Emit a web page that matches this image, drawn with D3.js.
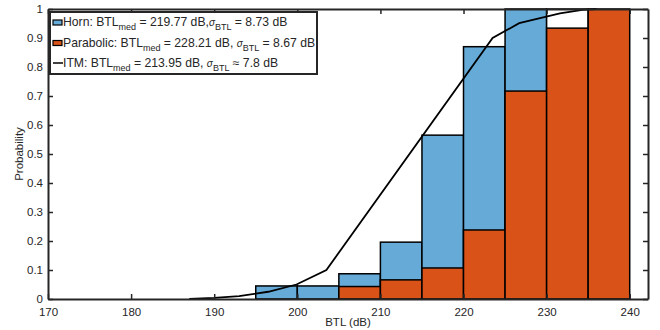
<!DOCTYPE html>
<html>
<head>
<meta charset="utf-8">
<script src="https://cdn.jsdelivr.net/npm/d3@7"></script>
<style>
  body { margin: 0; background: #fff; }
  text { font-family: "Liberation Sans", Arial, sans-serif; fill: #262626; }
</style>
</head>
<body>
<div id="chart"></div>
<script>
// valores (CDF por bin de 5 dB)
const binWidth = 5;
const hornBins = [195, 200, 205, 210, 215, 220, 225];
const hornVals = [0.045, 0.045, 0.087, 0.196, 0.565, 0.87, 1.0];
const paraBins = [205, 210, 215, 220, 225, 230, 235];
const paraVals = [0.043, 0.066, 0.107, 0.238, 0.717, 0.934, 1.0];
// bin vacio (contorno blanco) sobre la barra naranja
const emptyBins = [230];
const emptyVals = [1.0];

const itmX = [187, 190, 193, 196.5, 199.9, 203.5, 223.5, 226.7, 231.6, 234.3, 236];
const itmY = [0, 0.004, 0.01, 0.025, 0.05, 0.1, 0.9, 0.951, 0.985, 0.997, 1.0];

const xTicks = [170, 180, 190, 200, 210, 220, 230, 240];
const yTicks = [0, 0.1, 0.2, 0.3, 0.4, 0.5, 0.6, 0.7, 0.8, 0.9, 1];

const legendRows = [
  { name: "Horn: BTL", med: "219.77", sep: ",", sig: "8.73", rel: "=", color: "#66abd8", kind: "patch" },
  { name: "Parabolic: BTL", med: "228.21", sep: ", ", sig: "8.67", rel: "=", color: "#d95319", kind: "patch" },
  { name: "ITM: BTL", med: "213.95", sep: ", ", sig: "7.8", rel: "\u2248", color: "#000", kind: "line" }
];

const width = 660;
const height = 330;
const margin = { top: 9, right: 12, bottom: 31, left: 48 };

const svg = d3.select("#chart").append("svg")
    .attr("width", width)
    .attr("height", height);

const x = d3.scaleLinear().domain([170, 242.2]).range([margin.left, width - margin.right]);
const y = d3.scaleLinear().domain([0, 1]).range([height - margin.bottom, margin.top]);

const axisColor = "#262626";

// barras Horn
svg.selectAll("rect.horn")
  .data(hornBins.map((b, i) => ({ b, v: hornVals[i] })))
  .join("rect")
    .attr("class", "horn")
    .attr("x", d => x(d.b))
    .attr("y", d => y(d.v))
    .attr("width", d => x(d.b + binWidth) - x(d.b))
    .attr("height", d => y(0) - y(d.v))
    .attr("fill", "#66abd8")
    .attr("stroke", "#000")
    .attr("stroke-width", 1.5);

// contorno vacio
svg.selectAll("rect.empty")
  .data(emptyBins.map((b, i) => ({ b, v: emptyVals[i] })))
  .join("rect")
    .attr("class", "empty")
    .attr("x", d => x(d.b))
    .attr("y", d => y(d.v))
    .attr("width", d => x(d.b + binWidth) - x(d.b))
    .attr("height", d => y(0) - y(d.v))
    .attr("fill", "#fff")
    .attr("stroke", "#000")
    .attr("stroke-width", 1.5);

// barras Parabolic
svg.selectAll("rect.para")
  .data(paraBins.map((b, i) => ({ b, v: paraVals[i] })))
  .join("rect")
    .attr("class", "para")
    .attr("x", d => x(d.b))
    .attr("y", d => y(d.v))
    .attr("width", d => x(d.b + binWidth) - x(d.b))
    .attr("height", d => y(0) - y(d.v))
    .attr("fill", "#d95319")
    .attr("stroke", "#000")
    .attr("stroke-width", 1.5);

// linea ITM
const line = d3.line().x(d => x(d[0])).y(d => y(d[1]));
svg.append("path")
  .datum(itmX.map((v, i) => [v, itmY[i]]))
  .attr("d", line)
  .attr("fill", "none")
  .attr("stroke", "#000")
  .attr("stroke-width", 1.8);

// ejes (estilo MATLAB, ticks hacia adentro)
const gx = svg.append("g").attr("transform", `translate(0,${y(0)})`)
  .call(d3.axisBottom(x).tickValues(xTicks).tickSizeInner(-5).tickSizeOuter(0).tickPadding(9));
const gxTop = svg.append("g").attr("transform", `translate(0,${y(1)})`)
  .call(d3.axisTop(x).tickValues(xTicks).tickSizeInner(-5).tickSizeOuter(0).tickFormat(""));
const gy = svg.append("g").attr("transform", `translate(${x.range()[0]},0)`)
  .call(d3.axisLeft(y).tickValues(yTicks).tickSizeInner(-5).tickSizeOuter(0).tickPadding(5).tickFormat(d3.format("~g")));
const gyRight = svg.append("g").attr("transform", `translate(${x.range()[1]},0)`)
  .call(d3.axisRight(y).tickValues(yTicks).tickSizeInner(-5).tickSizeOuter(0).tickFormat(""));

[gx, gxTop, gy, gyRight].forEach(g => {
  g.select(".domain").attr("stroke", axisColor).attr("stroke-width", 2);
  g.selectAll(".tick line").attr("stroke", axisColor).attr("stroke-width", 1.5);
  g.selectAll(".tick text").attr("fill", axisColor)
    .style("font-family", "'Liberation Sans', Arial, sans-serif").style("font-size", "11.5px");
});

svg.append("text")
  .attr("x", (x.range()[0] + x.range()[1]) / 2)
  .attr("y", 326)
  .attr("text-anchor", "middle")
  .style("font-size", "11.5px")
  .text("BTL (dB)");

svg.append("text")
  .attr("transform", `translate(23,${(y(0) + y(1)) / 2}) rotate(-90)`)
  .attr("text-anchor", "middle")
  .style("font-size", "11.5px")
  .text("Probability");

// leyenda
const lg = svg.append("g");
lg.append("rect")
  .attr("x", 50).attr("y", 12)
  .attr("width", 267).attr("height", 62)
  .attr("fill", "#fff")
  .attr("stroke", axisColor)
  .attr("stroke-width", 2);

legendRows.forEach((r, i) => {
  const cy = 22 + i * 20.5;
  if (r.kind === "patch") {
    lg.append("rect")
      .attr("x", 53).attr("y", cy - 2)
      .attr("width", 9).attr("height", 5)
      .attr("fill", r.color)
      .attr("stroke", "#000").attr("stroke-width", 1.2);
  } else {
    lg.append("line")
      .attr("x1", 53).attr("x2", 63)
      .attr("y1", cy).attr("y2", cy)
      .attr("stroke", r.color).attr("stroke-width", 1.5);
  }
  const t = lg.append("text")
    .attr("x", 63).attr("y", cy + 4)
    .style("font-size", "12.2px");
  t.append("tspan").text(r.name);
  t.append("tspan").attr("dy", 4).style("font-size", "9px").text("med");
  t.append("tspan").attr("dy", -4).text(` = ${r.med} dB${r.sep}`);
  t.append("tspan").style("font-size", "10px").style("font-style", "italic").text("\u03c3");
  t.append("tspan").attr("dy", 4).style("font-size", "9px").text("BTL");
  t.append("tspan").attr("dy", -4).text(` ${r.rel} ${r.sig} dB`);
});
</script>
</body>
</html>
